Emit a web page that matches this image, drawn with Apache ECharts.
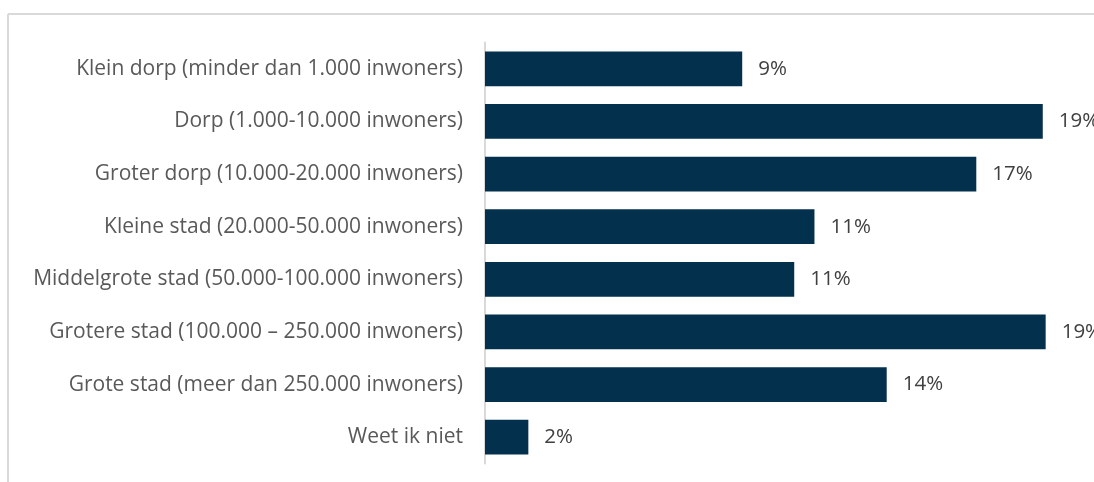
<!DOCTYPE html>
<html>
<head>
<meta charset="utf-8">
<script src="https://cdn.jsdelivr.net/npm/echarts@6/dist/echarts.min.js"></script>
<style>
html,body{margin:0;padding:0;background:#fff;}
#c{width:1094px;height:482px;}
</style>
</head>
<body>
<div id="c"></div>
<script>
const categories = [
  "Klein dorp (minder dan 1.000 inwoners)",
  "Dorp (1.000-10.000 inwoners)",
  "Groter dorp (10.000-20.000 inwoners)",
  "Kleine stad (20.000-50.000 inwoners)",
  "Middelgrote stad (50.000-100.000 inwoners)",
  "Grotere stad (100.000 \u2013 250.000 inwoners)",
  "Grote stad (meer dan 250.000 inwoners)",
  "Weet ik niet"
];
const values = [8.9, 19.3, 17.0, 11.4, 10.7, 19.4, 13.9, 1.5];

const chart = echarts.init(document.getElementById('c'), null, {renderer: 'canvas'});
chart.setOption({
  animation: false,
  backgroundColor: '#ffffff',
  graphic: [
    {type: 'line', shape: {x1: 8, y1: 14, x2: 1094, y2: 14}, style: {stroke: '#d9d9d9', lineWidth: 2}},
    {type: 'line', shape: {x1: 8, y1: 14, x2: 8, y2: 482}, style: {stroke: '#d9d9d9', lineWidth: 2}}
  ],
  grid: {left: 485, top: 42.5, width: 578, height: 421, containLabel: false},
  xAxis: {
    type: 'value', min: 0, max: 20, show: false
  },
  yAxis: {
    type: 'category', data: categories, inverse: true,
    axisLine: {show: true, lineStyle: {color: '#d9d9d9', width: 2}},
    axisTick: {show: false},
    axisLabel: {color: '#595959', fontFamily: 'Open Sans', fontSize: 21, margin: 22}
  },
  series: [{
    type: 'bar', data: values, barCategoryGap: '34%',
    itemStyle: {color: '#03304d'},
    label: {
      show: true, position: 'right', distance: 16,
      color: '#404040', fontFamily: 'Open Sans', fontSize: 20.5,
      formatter: p => Math.round(p.value) + '%'
    }
  }]
});
</script>
</body>
</html>
